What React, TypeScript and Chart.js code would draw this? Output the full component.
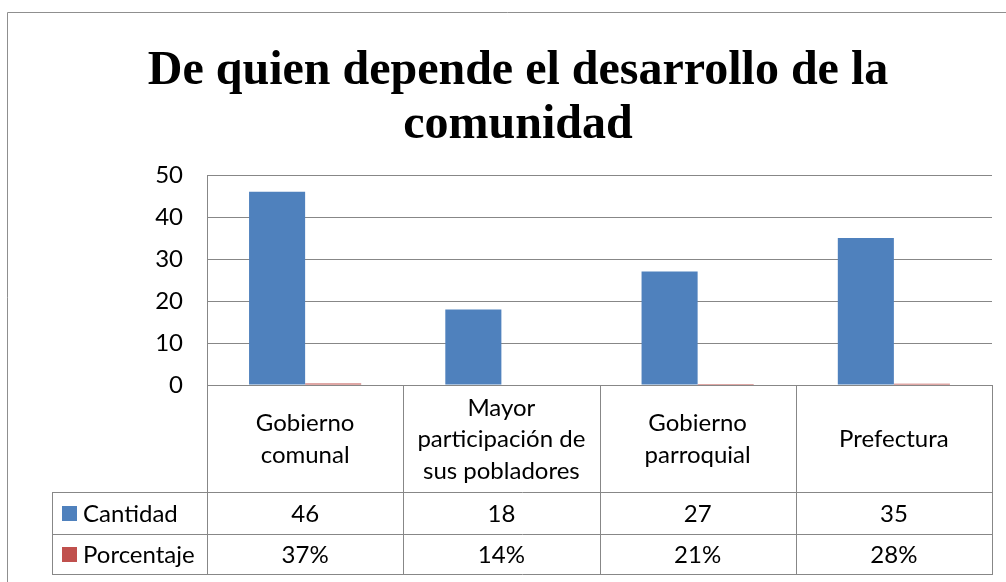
import React, { useEffect, useRef } from "react";
import { Chart, registerables } from "chart.js";

Chart.register(...registerables);

const titleLines = ["De quien depende el desarrollo de la", "comunidad"];
const categories = [
  "Gobierno comunal",
  "Mayor participación de sus pobladores",
  "Gobierno parroquial",
  "Prefectura",
];
const categoryLines = [
  ["Gobierno", "comunal"],
  ["Mayor", "participación de", "sus pobladores"],
  ["Gobierno", "parroquial"],
  ["Prefectura"],
];
const seriesNames = ["Cantidad", "Porcentaje"];
const cantidad = [46, 18, 27, 35];
const porcentaje = [0.37, 0.14, 0.21, 0.28];
const seriesColors = ["#4F81BD", "#C0504D"];
const yMin = 0;
const yMax = 50;
const yStep = 10;

const W = 1006;
const H = 582;
const FONT = "Lato";
const GRID = "#878787";

const tablePlugin = {
  id: "excelTable",
  afterDraw(chart: any) {
    const ctx = chart.ctx as CanvasRenderingContext2D;
    const area = chart.chartArea;
    const left = area.left;
    const right = area.right;
    const top0 = area.bottom; // 0 line
    const rowHead = 492;
    const rowCant = 534;
    const rowPct = 574;
    const legLeft = 52;
    const n = categories.length;
    const cw = (right - left) / n;
    ctx.save();
    // outer border
    ctx.strokeStyle = "#8f8f8f";
    ctx.lineWidth = 1;
    ctx.beginPath();
    ctx.moveTo(7.5, H + 5);
    ctx.lineTo(7.5, 12.5);
    ctx.lineTo(W + 5, 12.5);
    ctx.stroke();

    // title
    ctx.fillStyle = "#000";
    ctx.font = "bold 48px 'Liberation Serif'";
    ctx.textAlign = "center";
    ctx.textBaseline = "alphabetic";
    ctx.fillText(titleLines[0], 518, 84);
    ctx.fillText(titleLines[1], 518, 138);

    // table lines
    ctx.strokeStyle = GRID;
    ctx.beginPath();
    const hl = (y: number, x0: number, x1: number) => {
      ctx.moveTo(x0, Math.round(y) + 0.5);
      ctx.lineTo(x1, Math.round(y) + 0.5);
    };
    const vl = (x: number, y0: number, y1: number) => {
      ctx.moveTo(Math.round(x) + 0.5, y0);
      ctx.lineTo(Math.round(x) + 0.5, y1);
    };
    hl(rowHead, legLeft, right + 1);
    hl(rowCant, legLeft, right + 1);
    hl(rowPct, legLeft, right + 1);
    vl(legLeft, rowHead, rowPct + 1);
    for (let i = 0; i <= n; i++) {
      vl(left + i * cw, top0, rowPct + 1);
    }
    ctx.stroke();

    // category labels
    ctx.fillStyle = "#000";
    ctx.font = `24px ${FONT}`;
    ctx.textAlign = "center";
    ctx.textBaseline = "middle";
    const lh = 31.5;
    const headMid = (top0 + rowHead) / 2 + 1;
    for (let i = 0; i < n; i++) {
      const lines = categoryLines[i];
      const cx = left + (i + 0.5) * cw;
      const startY = headMid - ((lines.length - 1) * lh) / 2;
      lines.forEach((t, j) => ctx.fillText(t, cx, startY + j * lh));
    }

    // rows
    const rows = [
      { y: (rowHead + rowCant) / 2 + 1, vals: cantidad.map((v) => String(v)) },
      { y: (rowCant + rowPct) / 2 + 1, vals: porcentaje.map((v) => Math.round(v * 100) + "%") },
    ];
    rows.forEach((r, k) => {
      ctx.fillStyle = seriesColors[k];
      ctx.fillRect(62, Math.round(r.y) - 8, 15, 15);
      ctx.fillStyle = "#000";
      ctx.textAlign = "left";
      ctx.fillText(seriesNames[k], 83, r.y);
      ctx.textAlign = "center";
      r.vals.forEach((v, i) => ctx.fillText(v, left + (i + 0.5) * cw, r.y));
    });
    ctx.restore();
  },
};

export default function App() {
  const ref = useRef<HTMLCanvasElement | null>(null);
  useEffect(() => {
    if (!ref.current) return;
    const chart = new Chart(ref.current, {
      type: "bar",
      data: {
        labels: categories,
        datasets: [
          {
            label: seriesNames[0],
            data: cantidad,
            backgroundColor: seriesColors[0],
            categoryPercentage: 0.5714,
            barPercentage: 1,
          },
          {
            label: seriesNames[1],
            data: porcentaje,
            backgroundColor: seriesColors[1],
            categoryPercentage: 0.5714,
            barPercentage: 1,
          },
        ],
      },
      options: {
        responsive: false,
        animation: false,
        devicePixelRatio: 1,
        layout: { padding: { left: 0, top: 175, right: W - 992, bottom: H - 385 } },
        plugins: {
          legend: { display: false },
          title: { display: false },
          tooltip: { enabled: false },
        },
        scales: {
          x: { display: false },
          y: {
            min: yMin,
            max: yMax,
            afterFit: (s: any) => {
              s.width = 207;
            },
            ticks: {
              stepSize: yStep,
              padding: 24,
              color: "#000",
              font: { family: FONT, size: 24 },
            },
            grid: { color: GRID, lineWidth: 1, drawTicks: false },
            border: { display: true, color: GRID },
          },
        },
      },
      plugins: [tablePlugin],
    });
    return () => chart.destroy();
  }, []);
  return (
    <div style={{ position: "absolute", left: 0, top: 0, width: W, height: H, background: "#fff" }}>
      <canvas ref={ref} width={W} height={H} style={{ width: W, height: H, display: "block" }} />
    </div>
  );
}
